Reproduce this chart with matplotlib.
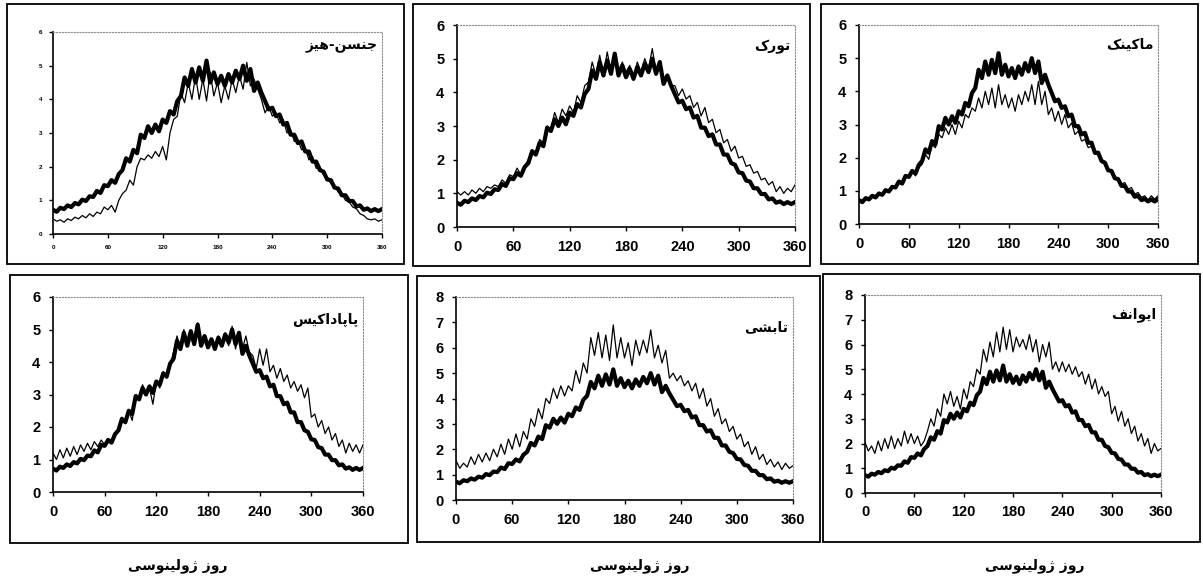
import matplotlib
matplotlib.use("Agg")
import matplotlib.pyplot as plt
from matplotlib.patches import Rectangle

# Julian day (every 4th day) and daily reference ET
days = list(range(0, 361, 4))

observed = [
    0.72, 0.66, 0.78, 0.74, 0.85, 0.80, 0.92, 0.88, 1.02, 0.98,
    1.12, 1.10, 1.28, 1.22, 1.45, 1.42, 1.60, 1.52, 1.78, 1.90,
    2.25, 2.15, 2.50, 2.40, 2.95, 2.85, 3.20, 3.00, 3.25, 3.05,
    3.40, 3.30, 3.65, 3.55, 3.95, 4.10, 4.65, 4.40, 4.90, 4.50,
    4.95, 4.55, 5.15, 4.50, 4.80, 4.45, 4.70, 4.40, 4.75, 4.50,
    4.85, 4.60, 5.00, 4.55, 4.90, 4.25, 4.50, 4.20, 3.95, 3.70,
    3.75, 3.50, 3.55, 3.25, 3.30, 2.95, 2.95, 2.70, 2.75, 2.45,
    2.45, 2.15, 2.15, 1.90, 1.85, 1.62, 1.60, 1.38, 1.35, 1.15,
    1.15, 0.98, 0.98, 0.82, 0.85, 0.72, 0.76, 0.68, 0.74, 0.68,
    0.74,
]

jensen_haise = [
    0.45, 0.38, 0.42, 0.35, 0.45, 0.40, 0.50, 0.45, 0.55, 0.48,
    0.60, 0.52, 0.65, 0.60, 0.80, 0.72, 0.85, 0.65, 1.00, 1.20,
    1.30, 1.60, 1.45, 2.00, 2.25, 2.20, 2.35, 2.25, 2.45, 2.30,
    2.60, 2.20, 3.00, 3.40, 3.50, 4.20, 3.90, 4.50, 4.00, 4.70,
    4.00, 4.60, 3.95, 4.80, 4.10, 4.50, 3.90, 4.40, 4.00, 4.60,
    4.20, 4.70, 4.30, 5.10, 4.40, 4.60, 4.30, 4.00, 3.60, 3.80,
    3.50, 3.60, 3.30, 3.40, 3.00, 3.10, 2.75, 2.80, 2.50, 2.55,
    2.20, 2.30, 1.95, 2.00, 1.75, 1.70, 1.50, 1.45, 1.25, 1.20,
    1.00, 0.95, 0.80, 0.75, 0.60, 0.55, 0.45, 0.42, 0.45, 0.38,
    0.42,
]

turc = [
    1.05, 0.95, 1.05, 0.95, 1.10, 1.00, 1.15, 1.05, 1.20, 1.15,
    1.25, 1.20, 1.40, 1.30, 1.55, 1.50, 1.75, 1.55, 1.80, 2.00,
    2.30, 2.20, 2.60, 2.50, 3.00, 2.90, 3.40, 3.10, 3.50, 3.30,
    3.60, 3.40, 3.90, 3.70, 4.20, 4.30, 4.90, 4.50, 5.10, 4.50,
    5.20, 4.60, 5.00, 4.50, 4.90, 4.60, 4.80, 4.40, 4.90, 4.60,
    5.00, 4.70, 5.30, 4.60, 4.90, 4.40, 4.50, 4.20, 4.20, 3.90,
    4.10, 3.80, 3.90, 3.55, 3.70, 3.30, 3.55, 3.10, 3.20, 2.80,
    2.90, 2.50, 2.60, 2.25, 2.40, 2.05, 2.10, 1.80, 1.85, 1.60,
    1.65, 1.40, 1.45, 1.25, 1.35, 1.05, 1.20, 1.00, 1.15, 1.05,
    1.25,
]

makkink = [
    0.75, 0.70, 0.80, 0.78, 0.88, 0.85, 0.95, 0.92, 1.05, 1.00,
    1.15, 1.12, 1.30, 1.25, 1.45, 1.40, 1.60, 1.45, 1.70, 1.80,
    2.10, 1.95, 2.40, 2.30, 2.70, 2.60, 2.90, 2.70, 3.00, 2.70,
    3.10, 2.90, 3.30, 3.20, 3.50, 3.40, 3.80, 3.50, 4.00, 3.60,
    4.10, 3.50, 4.20, 3.60, 3.90, 3.50, 3.80, 3.40, 3.90, 3.60,
    4.00, 3.70, 4.20, 3.60, 4.30, 3.60, 4.00, 3.30, 3.50, 3.10,
    3.40, 3.00, 3.30, 2.90, 3.05, 2.70, 2.80, 2.50, 2.55, 2.30,
    2.35, 2.10, 2.10, 1.85, 1.85, 1.60, 1.60, 1.40, 1.40, 1.20,
    1.25, 1.05, 1.10, 0.90, 0.95, 0.80, 0.85, 0.72, 0.85, 0.75,
    0.85,
]

papadakis = [
    1.20, 1.00, 1.30, 1.05, 1.35, 1.10, 1.40, 1.15, 1.45, 1.25,
    1.50, 1.30, 1.55, 1.40, 1.60, 1.45, 1.65, 1.50, 1.70, 1.90,
    2.30, 2.10, 2.50, 2.20, 3.00, 2.90, 3.30, 3.00, 3.20, 2.70,
    3.40, 3.20, 3.70, 3.50, 3.90, 4.30, 4.80, 4.40, 5.00, 4.50,
    4.90, 4.60, 5.20, 4.50, 4.80, 4.50, 4.70, 4.50, 4.80, 4.60,
    4.90, 4.50, 5.10, 4.40, 4.90, 4.40, 4.80, 4.30, 4.20, 3.80,
    4.40, 3.90, 4.40, 3.70, 3.90, 3.50, 3.80, 3.40, 3.60, 3.20,
    3.40, 3.10, 3.30, 2.90, 3.20, 2.30, 2.40, 2.00, 2.20, 1.80,
    2.00, 1.60, 1.80, 1.40, 1.60, 1.20, 1.50, 1.25, 1.45, 1.20,
    1.45,
]

radiation = [
    1.55, 1.25, 1.45, 1.30, 1.70, 1.40, 1.80, 1.50, 1.85, 1.55,
    2.00, 1.70, 2.20, 1.80, 2.40, 2.00, 2.60, 2.10, 2.70, 2.40,
    3.20, 2.90, 3.60, 3.20, 4.00, 3.80, 4.40, 4.00, 4.50, 4.10,
    4.50, 4.30, 5.10, 4.60, 5.40, 5.00, 6.40, 5.70, 6.60, 5.60,
    6.50, 5.50, 6.90, 5.60, 6.40, 5.60, 6.20, 5.30, 6.30, 5.70,
    6.30, 5.80, 6.70, 5.60, 6.10, 5.40, 5.90, 4.80, 5.00, 4.70,
    4.90, 4.50, 4.70, 4.30, 4.60, 4.00, 4.40, 3.70, 4.00, 3.30,
    3.60, 3.00, 3.20, 2.70, 2.90, 2.40, 2.60, 2.10, 2.30, 1.80,
    2.10, 1.60, 1.80, 1.40, 1.60, 1.30, 1.50, 1.20, 1.45, 1.25,
    1.35,
]

ivanov = [
    2.05, 1.70, 1.90, 1.60, 2.10, 1.70, 2.20, 1.80, 2.30, 1.80,
    2.20, 1.90, 2.50, 2.00, 2.40, 2.00, 2.30, 1.90, 2.10, 2.50,
    3.00, 2.70, 3.40, 3.10, 4.00, 3.60, 4.10, 3.50, 3.90, 3.40,
    4.20, 3.80, 4.50, 4.30, 5.00, 4.80, 5.80, 5.30, 6.10, 5.50,
    6.50, 5.70, 6.70, 5.80, 6.60, 5.70, 6.30, 5.90, 6.20, 5.80,
    6.40, 5.70, 6.20, 5.30, 6.00, 5.50, 6.10, 5.00, 5.30, 4.90,
    5.30, 4.90, 5.20, 4.80, 5.10, 4.70, 4.90, 4.40, 4.80, 4.20,
    4.60, 4.00, 4.30, 3.90, 4.10, 3.20, 3.50, 2.90, 3.30, 2.70,
    3.00, 2.40, 2.70, 2.10, 2.40, 1.90, 2.20, 1.60, 2.00, 1.70,
    1.80,
]

titles = ["جنسن-هیز", "تورک", "ماکینک", "پاپاداکیس", "تابشی", "ایوانف"]
methods = [jensen_haise, turc, makkink, papadakis, radiation, ivanov]
y_max = [6, 6, 6, 6, 8, 8]
x_ticks = [0, 60, 120, 180, 240, 300, 360]
x_label = "روز ژولینوسی"

# matplotlib does not join Arabic letters, so map them to presentation forms
# (isolated, final, initial, medial); two-form letters only join to the right
FORMS = {
    "ا": "\ufe8d\ufe8e", "ب": "\ufe8f\ufe90\ufe91\ufe92", "پ": "\ufb56\ufb57\ufb58\ufb59",
    "ت": "\ufe95\ufe96\ufe97\ufe98", "ج": "\ufe9d\ufe9e\ufe9f\ufea0", "د": "\ufea9\ufeaa",
    "ر": "\ufead\ufeae", "ز": "\ufeaf\ufeb0", "ژ": "\ufb8a\ufb8b",
    "س": "\ufeb1\ufeb2\ufeb3\ufeb4", "ش": "\ufeb5\ufeb6\ufeb7\ufeb8", "ف": "\ufed1\ufed2\ufed3\ufed4",
    "ک": "\ufb8e\ufb8f\ufb90\ufb91", "ل": "\ufedd\ufede\ufedf\ufee0", "م": "\ufee1\ufee2\ufee3\ufee4",
    "ن": "\ufee5\ufee6\ufee7\ufee8", "ه": "\ufee9\ufeea\ufeeb\ufeec", "و": "\ufeed\ufeee",
    "ی": "\ufbfc\ufbfd\ufbfe\ufbff",
}


def shape(text):
    out = []
    for i, ch in enumerate(text):
        if ch not in FORMS:
            out.append(ch)
            continue
        prev = text[i - 1] if i > 0 else ""
        nxt = text[i + 1] if i + 1 < len(text) else ""
        join_prev = prev in FORMS and len(FORMS[prev]) == 4
        join_next = len(FORMS[ch]) == 4 and nxt in FORMS
        forms = FORMS[ch]
        if join_prev and join_next:
            out.append(forms[3])
        elif join_prev:
            out.append(forms[1])
        elif join_next:
            out.append(forms[2])
        else:
            out.append(forms[0])
    return "".join(out)[::-1]


W, H = 1203, 584
fig = plt.figure(figsize=(W / 100, H / 100), dpi=100)


def fig_rect(l, t, r, b):
    return [l / W, 1 - b / H, (r - l) / W, (b - t) / H]


# pixel boxes: outer frame and plot area (left, top, right, bottom)
frames = [(7, 4, 404, 264), (413, 4, 810, 266), (821, 4, 1198, 264),
          (10, 275, 408, 543), (417, 276, 820, 542), (823, 274, 1200, 542)]
areas = [(53, 32, 382, 234), (457, 25, 795, 227), (859, 25, 1158, 224),
         (53, 297, 363, 492), (456, 297, 793, 500), (865, 295, 1161, 493)]
title_y = [0.93, 0.89, 0.90, 0.88, 0.85, 0.90]

for k in range(6):
    l, t, r, b = frames[k]
    fig.patches.append(Rectangle((l / W, 1 - b / H), (r - l) / W, (b - t) / H,
                                 transform=fig.transFigure, fill=False,
                                 ec="black", lw=1.3))
    ax = fig.add_axes(fig_rect(*areas[k]))
    ax.plot(days, methods[k], color="black", lw=0.9)
    ax.plot(days, observed, color="black", lw=3.0)
    ax.set_xlim(0, 360)
    ax.set_ylim(0, y_max[k])
    ax.set_xticks(x_ticks)
    ax.set_yticks(range(0, y_max[k] + 1))
    for side in ["top", "right"]:
        ax.spines[side].set_linestyle(":")
        ax.spines[side].set_color("0.55")
        ax.spines[side].set_linewidth(0.8)
    for side in ["left", "bottom"]:
        ax.spines[side].set_linewidth(1.2)
    size = 4.5 if k == 0 else 10.5
    ax.tick_params(direction="out", length=3, width=1, pad=6 if k else 5,
                   labelsize=size)
    for lab in ax.get_xticklabels() + ax.get_yticklabels():
        lab.set_fontfamily("Liberation Sans")
        lab.set_fontweight("bold")
    ax.text(0.985, title_y[k], shape(titles[k]), transform=ax.transAxes,
            ha="right", va="center", fontsize=10, fontweight="bold",
            family="DejaVu Sans")

for cx in [178, 640, 1035]:
    fig.text(cx / W, 1 - 566 / H, shape(x_label), ha="center", va="center",
             fontsize=10, fontweight="bold", family="DejaVu Sans")

fig.savefig("out.png", dpi=100)
